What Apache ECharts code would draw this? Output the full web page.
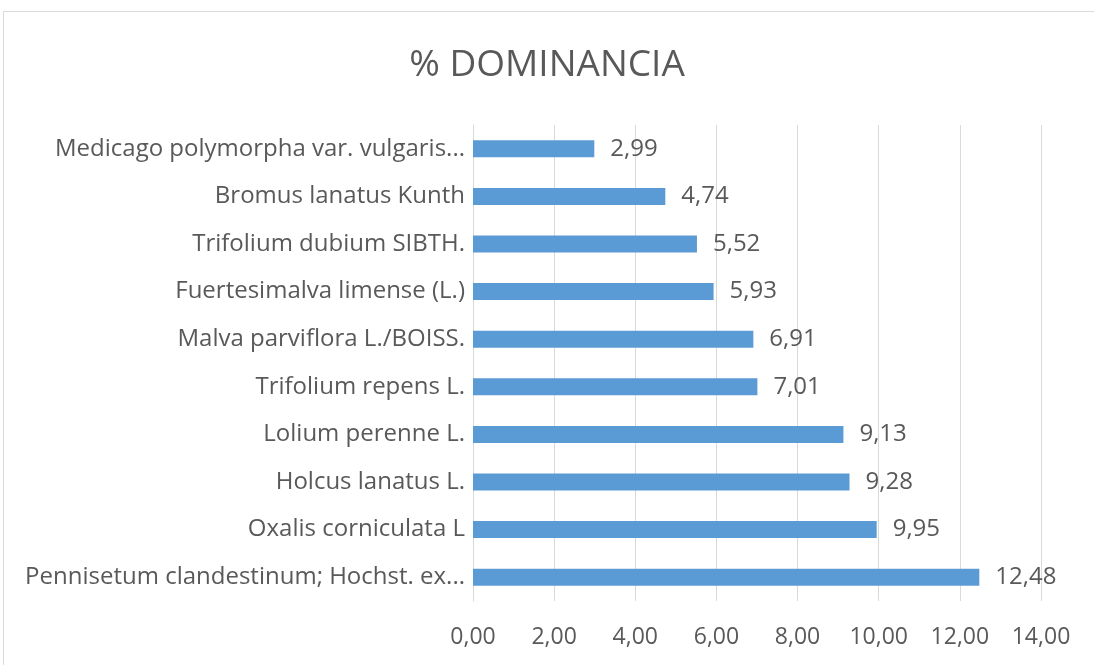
<!DOCTYPE html>
<html>
<head>
<meta charset="utf-8">
<script src="https://cdn.jsdelivr.net/npm/echarts@6/dist/echarts.min.js"></script>
<style>
  html, body { margin: 0; padding: 0; background: #fff; }
  #frame { position: absolute; left: 3px; top: 11px; width: 1100px; height: 670px; border: 1px solid #d9d9d9; box-sizing: border-box; }
  #chart { position: absolute; left: 0; top: 0; width: 1094px; height: 665px; }
</style>
</head>
<body>
<div id="frame"></div>
<div id="chart"></div>
<script>
// especies (de abajo hacia arriba) y % de dominancia
const species = [
    'Pennisetum clandestinum; Hochst. ex...',
    'Oxalis corniculata L',
    'Holcus lanatus L.',
    'Lolium perenne L.',
    'Trifolium repens L.',
    'Malva parviflora L./BOISS.',
    'Fuertesimalva limense (L.)',
    'Trifolium dubium SIBTH.',
    'Bromus lanatus Kunth',
    'Medicago polymorpha var. vulgaris...'
];
const dominancia = [12.48, 9.95, 9.28, 9.13, 7.01, 6.91, 5.93, 5.52, 4.74, 2.99];

// formato con coma decimal
const fmt = v => v.toFixed(2).replace('.', ',');

const chart = echarts.init(document.getElementById('chart'));
const textColor = '#595959';
const font = 'Open Sans';

chart.setOption({
    animation: false,
    title: {
        text: '% DOMINANCIA',
        left: 'center',
        top: 42,
        textStyle: { color: textColor, fontSize: 37, fontWeight: 'normal', fontFamily: font }
    },
    grid: { left: 473, right: 53, top: 125, bottom: 64 },
    xAxis: {
        type: 'value',
        min: 0,
        max: 14,
        interval: 2,
        axisLine: { show: false },
        axisTick: { show: false },
        axisLabel: { color: textColor, fontSize: 23, fontFamily: font, margin: 25, formatter: fmt },
        splitLine: { lineStyle: { color: '#d9d9d9', width: 1 } }
    },
    yAxis: {
        type: 'category',
        data: species,
        axisLine: { show: true, lineStyle: { color: '#d9d9d9', width: 1 } },
        axisTick: { show: false },
        axisLabel: { color: textColor, fontSize: 24, fontFamily: font, margin: 8 }
    },
    series: [{
        type: 'bar',
        data: dominancia,
        barWidth: 17,
        itemStyle: { color: '#5b9bd5' },
        label: {
            show: true,
            position: 'right',
            distance: 16,
            color: textColor,
            fontSize: 24,
            fontFamily: font,
            formatter: p => fmt(p.value)
        }
    }]
});
</script>
</body>
</html>
